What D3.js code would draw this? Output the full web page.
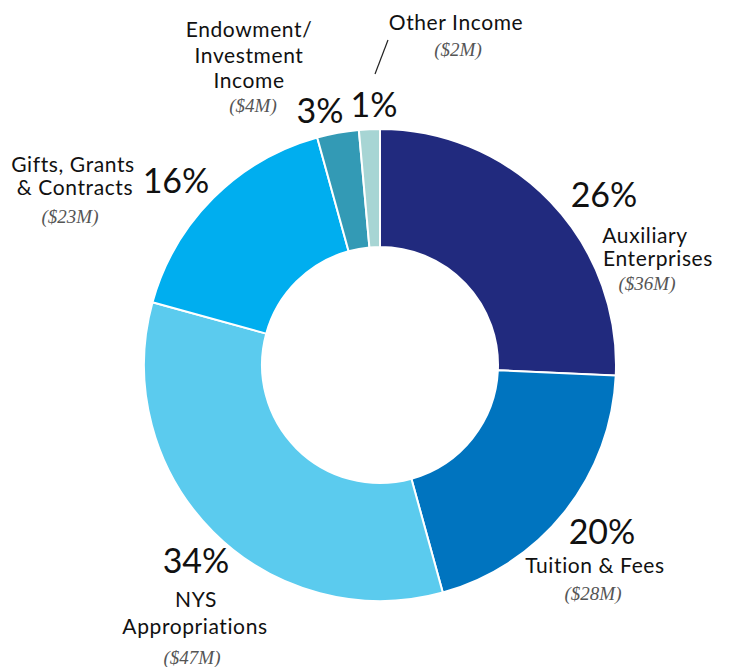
<!DOCTYPE html>
<html>
<head>
<meta charset="utf-8">
<script src="https://cdn.jsdelivr.net/npm/d3@7/dist/d3.min.js"></script>
<style>
  html, body { margin: 0; padding: 0; background: #fff; }
  svg { display: block; }
  .pct { font-family: Lato, "Open Sans", sans-serif; font-weight: 400; font-size: 34px; fill: #111; }
  .cat { font-family: Lato, "Open Sans", sans-serif; font-weight: 400; font-size: 21px; letter-spacing: 0.6px; fill: #111; }
  .amt { font-family: "Liberation Serif", "DejaVu Serif", serif; font-style: italic; font-size: 19px; fill: #555; }
</style>
</head>
<body>
<svg id="chart" width="735" height="667"></svg>
<script>
// ---- Data ----
const categories = ["Auxiliary Enterprises", "Tuition & Fees", "NYS Appropriations",
                    "Gifts, Grants & Contracts", "Endowment/ Investment Income", "Other Income"];
const values = [36, 28, 47, 23, 4, 2];               // $ millions
const amountLabels = ["($36M)", "($28M)", "($47M)", "($23M)", "($4M)", "($2M)"];
const categoryLines = [
  ["Auxiliary", "Enterprises"],
  ["Tuition & Fees"],
  ["NYS", "Appropriations"],
  ["Gifts, Grants", "& Contracts"],
  ["Endowment/", "Investment", "Income"],
  ["Other Income"]
];
const colors = ["#212a7e", "#0074bf", "#5bcbee", "#00aeef", "#339ab5", "#a7d5d4"];

// ---- Layout ----
const cx = 380, cy = 365, rOuter = 236, rInner = 118;
const svg = d3.select("#chart");
const g = svg.append("g").attr("transform", `translate(${cx},${cy})`);

const pie = d3.pie().value(d => d).sort(null);
const arc = d3.arc().innerRadius(rInner).outerRadius(rOuter);
const arcs = pie(values);
const total = d3.sum(values);

g.selectAll("path.slice")
  .data(arcs)
  .join("path")
  .attr("class", "slice")
  .attr("d", arc)
  .attr("fill", (d, i) => colors[i])
  .attr("stroke", "#fff")
  .attr("stroke-width", 2);

// label placement (text anchor points, page coords)
const labelLayout = [
  { pct: [604, 207], lines: [[645, 243], [658, 266]], amt: [647, 290] },
  { pct: [602, 544], lines: [[595, 573]], amt: [593, 600] },
  { pct: [196, 573], lines: [[196, 607], [195, 634]], amt: [192, 664] },
  { pct: [176, 193], lines: [[73, 172], [75, 195]], amt: [70, 223] },
  { pct: [320, 123], lines: [[249, 37], [249, 63], [249, 88]], amt: [253, 112] },
  { pct: [374, 117], lines: [[456, 30]], amt: [458, 56] }
];

const fmtPct = v => Math.round(v / total * 100) + "%";

const labels = svg.append("g");
arcs.forEach((a, i) => {
  const L = labelLayout[i];
  labels.append("text").attr("class", "pct")
    .attr("x", L.pct[0]).attr("y", L.pct[1])
    .attr("text-anchor", "middle")
    .text(fmtPct(values[i]));
  categoryLines[i].forEach((ln, j) => {
    labels.append("text").attr("class", "cat")
      .attr("x", L.lines[j][0]).attr("y", L.lines[j][1])
      .attr("text-anchor", "middle")
      .text(ln);
  });
  labels.append("text").attr("class", "amt")
    .attr("x", L.amt[0]).attr("y", L.amt[1])
    .attr("text-anchor", "middle")
    .text(amountLabels[i]);
});

// leader line for "Other Income"
labels.append("line")
  .attr("x1", 388).attr("y1", 40)
  .attr("x2", 375).attr("y2", 74)
  .attr("stroke", "#222").attr("stroke-width", 1.2);
</script>
</body>
</html>
